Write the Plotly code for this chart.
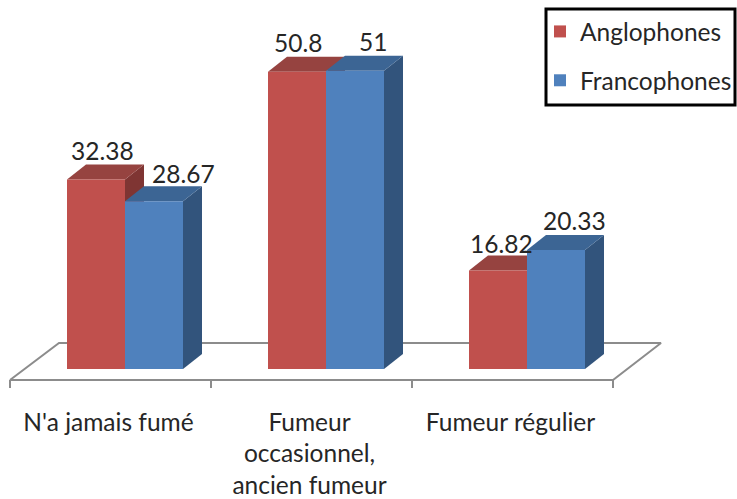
import plotly.graph_objects as go

categories = ["N'a jamais fumé", "Fumeur<br>occasionnel,<br>ancien fumeur", "Fumeur régulier"]
anglophones = [32.38, 50.8, 16.82]
francophones = [28.67, 51, 20.33]
series_names = ["Anglophones", "Francophones"]

W, H = 737, 499
PX_X, PX_Y = 201.0, 5.85
X0_PX, Y0_PX = 125.0, 369.0
dx = lambda px: (px - X0_PX) / PX_X
dy = lambda px: (Y0_PX - px) / PX_Y
xr = [dx(0), dx(W)]
yr = [dy(H), dy(0)]
BW = 58 / PX_X
DX, DY = 19 / PX_X, 15 / PX_Y
FONT = "Lato"
FS = 24.5
TXT = "#262626"
RED, RED_TOP, RED_SIDE = "#C0504D", "#964340", "#7F3533"
BLUE, BLUE_TOP, BLUE_SIDE = "#4F81BD", "#3C6594", "#32547C"
GRAY = "#8C8C8C"

fig = go.Figure()

# floor of the 3D chart
fx = [dx(10), dx(613), dx(661), dx(59), dx(10)]
fy = [dy(380), dy(380), dy(343), dy(343), dy(380)]
fig.add_trace(go.Scatter(x=fx, y=fy, mode="lines", line=dict(color=GRAY, width=2), showlegend=False, hoverinfo="skip"))
for t in [10, 211, 412, 613]:
    fig.add_trace(go.Scatter(x=[dx(t), dx(t)], y=[dy(380), dy(388)], mode="lines", line=dict(color=GRAY, width=2), showlegend=False, hoverinfo="skip"))


def faces(cx, v, top, side):
    l, r = cx - BW / 2, cx + BW / 2
    fig.add_trace(go.Scatter(x=[r, r + DX, r + DX, r, r], y=[0, DY, v + DY, v, 0], mode="lines", fill="toself",
                             fillcolor=side, line=dict(width=0, color=side), showlegend=False, hoverinfo="skip"))
    fig.add_trace(go.Scatter(x=[l, r, r + DX, l + DX, l], y=[v, v, v + DY, v + DY, v], mode="lines", fill="toself",
                             fillcolor=top, line=dict(width=0, color=top), showlegend=False, hoverinfo="skip"))


for i in range(3):
    faces(i - BW / 2, anglophones[i], RED_TOP, RED_SIDE)
    faces(i + BW / 2, francophones[i], BLUE_TOP, BLUE_SIDE)

xs = list(range(3))
fig.add_trace(go.Bar(x=xs, y=anglophones, name=series_names[0], marker=dict(color=RED, line=dict(width=0)),
                     xaxis="x2", yaxis="y2", legendgroup="a"))
fig.add_trace(go.Bar(x=xs, y=francophones, name=series_names[1], marker=dict(color=BLUE, line=dict(width=0)),
                     xaxis="x2", yaxis="y2", legendgroup="f"))

label_shift = [(6, 29), (29, 28), (1, 29), (18, 29), (3, 27), (18.5, 30)]
anns = []
k = 0
for i in range(3):
    for off, v in ((-BW / 2, anglophones[i]), (BW / 2, francophones[i])):
        sx, sy = label_shift[k]
        k += 1
        anns.append(dict(x=i + off, y=v, xref="x", yref="y", text=str(v), showarrow=False, xshift=sx, yshift=sy,
                         xanchor="center", yanchor="middle", font=dict(family=FONT, size=FS, color=TXT)))

fig.update_layout(
    width=W, height=H, margin=dict(l=0, r=0, t=0, b=0, autoexpand=False),
    paper_bgcolor="white", plot_bgcolor="white",
    barmode="group", bargap=1 - 2 * BW, bargroupgap=0,
    annotations=anns,
    showlegend=True,
    legend=dict(x=540 / W, y=1 - 9 / H, xanchor="left", yanchor="top", bgcolor="rgba(0,0,0,0)",
                borderwidth=0, tracegroupgap=14, traceorder="grouped",
                font=dict(family=FONT, size=FS, color=TXT)),
    shapes=[dict(type="rect", xref="paper", yref="paper", x0=546 / W, x1=735 / W, y0=1 - 105 / H, y1=1 - 9 / H,
                 line=dict(color="black", width=3), fillcolor="white", layer="above")],
    xaxis=dict(range=xr, showgrid=False, zeroline=False, showline=False, ticks="",
               tickmode="array", tickvals=[i + dx(108.5) for i in range(3)], ticktext=categories,
               tickfont=dict(family=FONT, size=FS, color=TXT), tickangle=0,
               anchor="free", position=1 - 405 / H, fixedrange=True),
    yaxis=dict(range=yr, showgrid=False, zeroline=False, showline=False, showticklabels=False, ticks="", fixedrange=True),
    xaxis2=dict(range=xr, overlaying="x", visible=False, fixedrange=True),
    yaxis2=dict(range=yr, overlaying="y", visible=False, fixedrange=True),
)
fig.write_html("out.html", config=dict(displayModeBar=False), post_script="document.body.style.margin='0';")
